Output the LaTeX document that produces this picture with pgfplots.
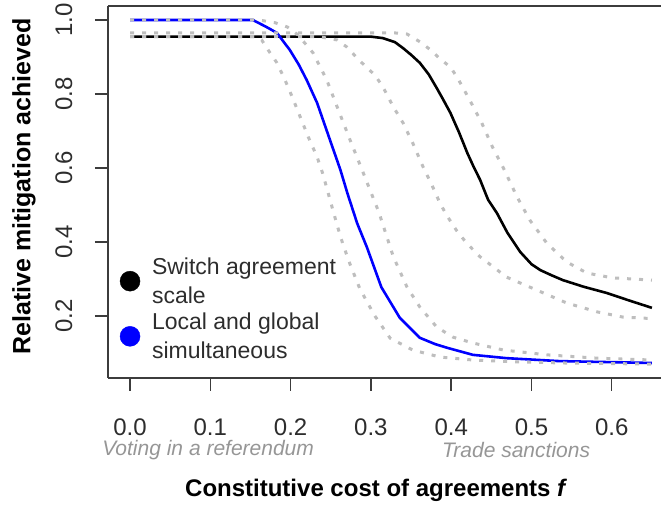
\documentclass[border=0pt]{standalone}
\usepackage{pgfplots}
\pgfplotsset{compat=1.18}
\usepackage{fontspec}
\setmainfont{Liberation Sans}
\definecolor{cigray}{RGB}{190,190,190}
\definecolor{axgray}{RGB}{60,60,60}
\definecolor{txtgray}{RGB}{45,45,45}
\definecolor{subgray}{RGB}{150,150,150}
\definecolor{rblue}{RGB}{0,0,255}

\begin{document}
\begin{tikzpicture}
\useasboundingbox (0,0) rectangle (661pt,508pt);
\begin{axis}[
    at={(108pt,130pt)}, anchor=south west,
    scale only axis,
    width=553pt, height=372pt,
    xmin=-0.0274, xmax=0.6613,
    ymin=0.0324, ymax=1.0378,
    axis x line*=bottom, axis y line*=left,
    axis line style={axgray, line width=1.4pt, -},
    xtick={0,0.1,0.2,0.3,0.4,0.5,0.6},
    xticklabels={0.0,0.1,0.2,0.3,0.4,0.5,0.6},
    ytick={0.2,0.4,0.6,0.8,1.0},
    yticklabels={0.2,0.4,0.6,0.8,1.0},
    tick align=outside,
    major tick length=13pt,
    tick style={axgray, line width=1.4pt},
    xticklabel style={font=\fontsize{24}{28}\selectfont, text=txtgray, yshift=-24pt},
    yticklabel style={font=\fontsize{24}{28}\selectfont, text=txtgray, xshift=-19pt, rotate=90, anchor=south},
    xlabel={Constitutive cost of agreements \textit{f}},
    ylabel={Relative mitigation achieved},
    xlabel style={font=\bfseries\fontsize{24}{28}\selectfont, at={(axis description cs:0.485,-0.301)}, anchor=center},
    ylabel style={font=\bfseries\fontsize{25}{29}\selectfont, at={(axis description cs:-0.152,0.515)}, anchor=center},
    legend style={draw=none, fill=none, at={(axis description cs:0.016,0.335)}, anchor=north west,
      font=\fontsize{23}{29}\selectfont, text=txtgray, nodes={align=left}, row sep=4pt, column sep=10pt},
    legend cell align=left,
    clip=false,
]

% main curves
\addplot[black, line width=2.6pt, forget plot] coordinates {
(0,0.955)(0.300,0.955)(0.315,0.951)(0.330,0.940)(0.340,0.924)(0.350,0.906)
(0.361,0.884)(0.372,0.853)(0.382,0.816)(0.390,0.785)(0.399,0.749)(0.410,0.695)
(0.420,0.641)(0.428,0.603)(0.436,0.568)(0.446,0.514)(0.457,0.478)(0.470,0.425)
(0.486,0.373)(0.500,0.340)(0.511,0.324)(0.525,0.310)(0.539,0.297)(0.565,0.279)
(0.594,0.262)(0.620,0.243)(0.650,0.222)
};
\addplot[rblue, line width=2.6pt, forget plot] coordinates {
(0,1.0)(0.153,1.0)(0.170,0.981)(0.183,0.965)(0.199,0.919)(0.210,0.880)
(0.220,0.838)(0.233,0.776)(0.249,0.676)(0.262,0.595)(0.271,0.530)(0.283,0.450)
(0.295,0.386)(0.313,0.278)(0.336,0.195)(0.361,0.141)(0.380,0.124)(0.395,0.114)
(0.427,0.095)(0.469,0.086)(0.535,0.078)(0.650,0.073)
};

% confidence bands
\addplot[cigray, line width=3pt, dash pattern=on 4pt off 8pt, forget plot] coordinates {
(0,0.965)(0.330,0.965)(0.345,0.962)(0.361,0.941)(0.375,0.918)(0.386,0.895)
(0.399,0.873)(0.408,0.843)(0.423,0.784)(0.438,0.722)(0.452,0.654)(0.465,0.600)
(0.482,0.522)(0.498,0.459)(0.519,0.397)(0.532,0.370)(0.544,0.346)(0.569,0.316)
(0.601,0.303)(0.650,0.297)
};
\addplot[cigray, line width=3pt, dash pattern=on 4pt off 8pt, forget plot] coordinates {
(0,0.955)(0.235,0.955)(0.258,0.946)(0.270,0.927)(0.286,0.890)(0.305,0.851)
(0.315,0.819)(0.328,0.765)(0.340,0.722)(0.352,0.668)(0.365,0.603)(0.377,0.549)
(0.386,0.505)(0.395,0.470)(0.407,0.430)(0.420,0.395)(0.436,0.360)(0.469,0.305)
(0.498,0.278)(0.544,0.235)(0.582,0.211)(0.614,0.197)(0.650,0.193)
};
\addplot[cigray, line width=3pt, dash pattern=on 4pt off 8pt, forget plot] coordinates {
(0,1.0)(0.160,1.0)(0.180,0.993)(0.196,0.981)(0.209,0.960)(0.228,0.911)
(0.245,0.838)(0.258,0.765)(0.274,0.676)(0.289,0.595)(0.299,0.540)(0.310,0.480)
(0.328,0.360)(0.345,0.278)(0.361,0.224)(0.382,0.170)(0.402,0.143)(0.427,0.127)
(0.465,0.108)(0.519,0.095)(0.582,0.086)(0.650,0.081)
};
\addplot[cigray, line width=3pt, dash pattern=on 4pt off 8pt, forget plot] coordinates {
(0,0.955)(0.155,0.955)(0.164,0.946)(0.172,0.919)(0.183,0.884)(0.193,0.838)
(0.202,0.792)(0.212,0.738)(0.222,0.684)(0.233,0.630)(0.240,0.585)(0.249,0.515)
(0.258,0.445)(0.265,0.395)(0.274,0.340)(0.286,0.275)(0.296,0.235)(0.305,0.200)
(0.324,0.140)(0.352,0.108)(0.386,0.089)(0.427,0.081)(0.482,0.076)(0.539,0.073)
(0.650,0.070)
};

\addlegendimage{only marks, mark=*, mark size=10pt, black}
\addlegendentry{Switch agreement\\scale}
\addlegendimage{only marks, mark=*, mark size=10pt, rblue}
\addlegendentry{Local and global\\simultaneous}

% top frame line
\draw[axgray, line width=1.4pt] (rel axis cs:0,1) -- (rel axis cs:1,1);

% annotations under the axis
\node[font=\itshape\fontsize{21}{25}\selectfont, text=subgray] at (axis description cs:0.181,-0.194) {Voting in a referendum};
\node[font=\itshape\fontsize{21}{25}\selectfont, text=subgray] at (axis description cs:0.738,-0.194) {Trade sanctions};
\end{axis}
\end{tikzpicture}
\end{document}
